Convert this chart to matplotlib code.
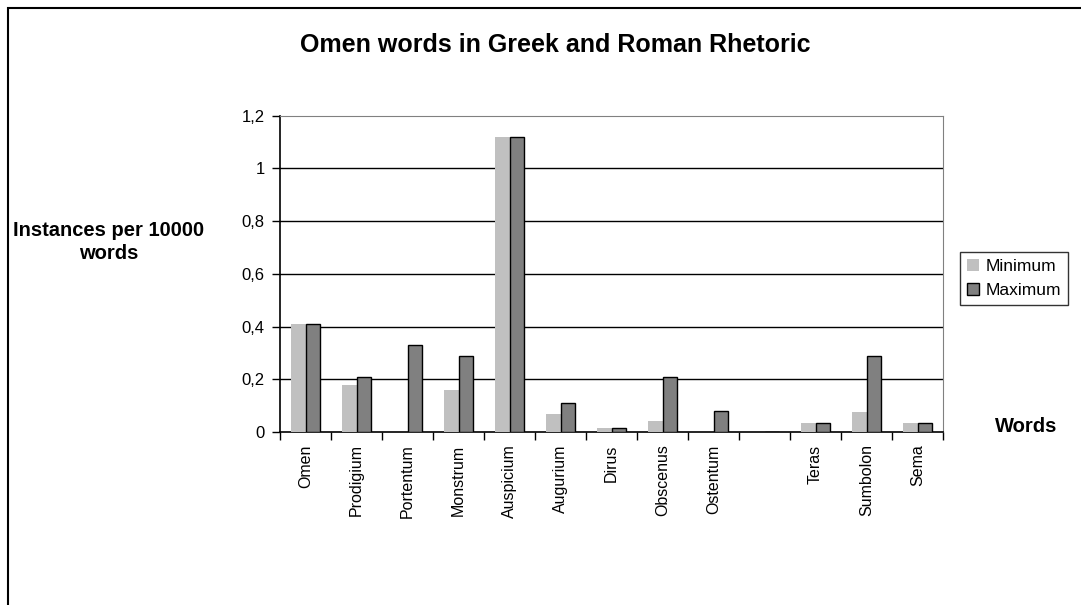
import numpy as np
import matplotlib.pyplot as plt
from matplotlib.patches import Rectangle

plt.rcParams['font.family'] = ['Liberation Sans', 'DejaVu Sans']

words = ["Omen", "Prodigium", "Portentum", "Monstrum", "Auspicium", "Augurium",
         "Dirus", "Obscenus", "Ostentum", "", "Teras", "Sumbolon", "Sema"]
minimum = [0.41, 0.18, 0.0, 0.16, 1.12, 0.07, 0.015, 0.04, 0.0, 0.0, 0.035, 0.075, 0.035]
maximum = [0.41, 0.21, 0.33, 0.29, 1.12, 0.11, 0.015, 0.21, 0.08, 0.0, 0.035, 0.29, 0.035]
yticks = [0, 0.2, 0.4, 0.6, 0.8, 1.0, 1.2]
ytick_labels = ["0", "0,2", "0,4", "0,6", "0,8", "1", "1,2"]

W, H = 1081, 605
fig = plt.figure(figsize=(W / 100, H / 100), dpi=100)
ax = fig.add_axes([280 / W, 1 - 432 / H, 663 / W, (432 - 115.7) / H])

x = np.arange(len(words))
bw = 0.29
ax.bar(x - bw / 2, minimum, bw, color='#c0c0c0', linewidth=0, label='Minimum', zorder=3)
ax.bar(x + bw / 2, maximum, bw, color='#808080', edgecolor='black', linewidth=1,
       label='Maximum', zorder=3)

ax.set_xlim(-0.5, len(words) - 0.5)
ax.set_ylim(0, 1.2)
ax.set_yticks(yticks)
ax.set_yticklabels(ytick_labels, fontsize=12)
for v in yticks[1:-1]:
    ax.axhline(v, color='black', linewidth=1, zorder=1)

ax.set_xticks(x)
ax.set_xticklabels(words, rotation=90, fontsize=11.5)
ax.set_xticks(np.arange(len(words) + 1) - 0.5, minor=True)
ax.tick_params(axis='x', which='major', length=0, pad=9)
ax.tick_params(axis='x', which='minor', length=6, width=1, direction='out')
ax.tick_params(axis='y', length=6, width=1, direction='out', pad=5)

for side in ['top', 'right']:
    ax.spines[side].set_color('#808080')
ax.spines['left'].set_color('black')
ax.spines['bottom'].set_color('black')
ax.spines['left'].set_linewidth(1.2)
ax.spines['bottom'].set_linewidth(1.2)

fig.text(555 / W, 1 - 45 / H, "Omen words in Greek and Roman Rhetoric",
         ha='center', va='center', fontsize=18, fontweight='bold')
fig.text(109 / W, 1 - 242 / H, "Instances per 10000\nwords", ha='center', va='center',
         fontsize=14.5, fontweight='bold', linespacing=1.3)
fig.text(1026 / W, 1 - 427 / H, "Words", ha='center', va='center',
         fontsize=14.5, fontweight='bold')

leg = fig.legend(loc='upper left', bbox_to_anchor=(960 / W, 1 - 252 / H), fontsize=12.5,
                 frameon=True, fancybox=False, edgecolor='black', borderaxespad=0,
                 handlelength=0.7, handleheight=0.7, handletextpad=0.4,
                 borderpad=0.4, labelspacing=0.5)
leg.get_frame().set_linewidth(1)

fig.patches.append(Rectangle((8 / W, -0.1), 2, 1 - 8 / H + 0.1, transform=fig.transFigure,
                             fill=False, edgecolor='black', linewidth=1.5))

fig.savefig('out.png', dpi=100)
